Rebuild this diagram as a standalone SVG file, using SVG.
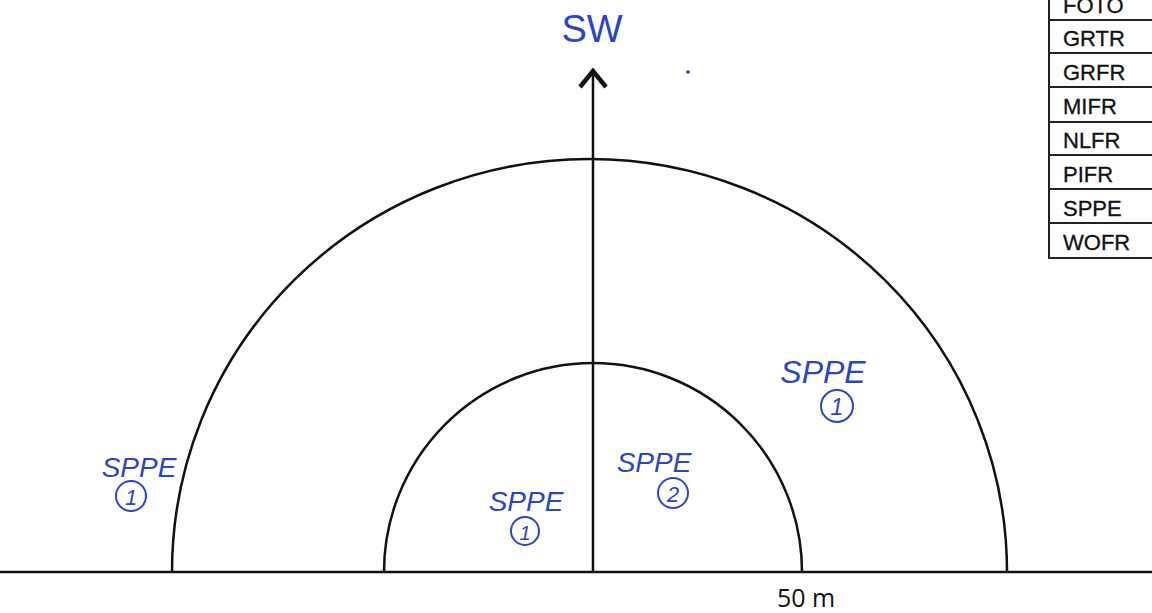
<svg xmlns="http://www.w3.org/2000/svg" width="1152" height="613" viewBox="0 0 1152 613">
<style>
.ln{fill:none;stroke:#111;stroke-width:2.5}
.hw{font-family:"Liberation Sans",Arial,sans-serif;fill:#2a45c8;font-style:italic}
.hc{fill:none;stroke:#2a45c8;stroke-width:2}
.lg{font-family:"Liberation Sans",Arial,sans-serif;font-size:22px;fill:#111;stroke:#111;stroke-width:0.3}
.cell{fill:#fff;stroke:#222;stroke-width:2}
</style>
<rect width="1152" height="613" fill="#fff"/>
<g id="connectors">
<line class="ln" x1="0" y1="572" x2="1152" y2="572"/>
<line class="ln" x1="593" y1="572" x2="593" y2="72"/>
<polyline style="fill:none;stroke:#111;stroke-width:4.5;stroke-linejoin:miter" points="580,87 593,71 606,87"/>
</g>
<g id="outer-arc"><path class="ln" d="M172,572 A417.5,413 0 0 1 1007,572"/></g>
<g id="inner-arc"><path class="ln" d="M384,572 A209,209 0 0 1 802,572"/></g>
<g id="north-label"><text class="hw" x="592" y="42" font-size="38" style="font-style:normal" text-anchor="middle">SW</text></g>
<circle cx="688" cy="72" r="1.8" fill="#443399"/>
<g id="label-left">
<text class="hw" x="139" y="477" font-size="28" text-anchor="middle">SPPE</text>
<circle class="hc" cx="131" cy="496" r="15"/>
<text class="hw" x="131" y="505" font-size="22" text-anchor="middle">1</text>
</g>
<g id="label-center-left">
<text class="hw" x="526" y="511" font-size="28" text-anchor="middle">SPPE</text>
<circle class="hc" cx="525" cy="531" r="14"/>
<text class="hw" x="525" y="540" font-size="20" text-anchor="middle">1</text>
</g>
<g id="label-center-right">
<text class="hw" x="654" y="472" font-size="28" text-anchor="middle">SPPE</text>
<circle class="hc" cx="673" cy="493" r="15"/>
<text class="hw" x="673" y="502" font-size="22" text-anchor="middle">2</text>
</g>
<g id="label-right">
<text class="hw" x="823" y="383" font-size="32" text-anchor="middle">SPPE</text>
<circle class="hc" cx="837" cy="406" r="16"/>
<text class="hw" x="837" y="415" font-size="23" text-anchor="middle">1</text>
</g>
<g id="legend">
<rect class="cell" x="1049" y="-14" width="120" height="34"/>
<rect class="cell" x="1049" y="20" width="120" height="33"/>
<rect class="cell" x="1049" y="53" width="120" height="34"/>
<rect class="cell" x="1049" y="87" width="120" height="35"/>
<rect class="cell" x="1049" y="122" width="120" height="33"/>
<rect class="cell" x="1049" y="155" width="120" height="34"/>
<rect class="cell" x="1049" y="189" width="120" height="34"/>
<rect class="cell" x="1049" y="223" width="120" height="35"/>
<text class="lg" x="1063" y="13">FOTO</text>
<text class="lg" x="1063" y="46">GRTR</text>
<text class="lg" x="1063" y="80">GRFR</text>
<text class="lg" x="1063" y="114">MIFR</text>
<text class="lg" x="1063" y="148">NLFR</text>
<text class="lg" x="1063" y="182">PIFR</text>
<text class="lg" x="1063" y="216">SPPE</text>
<text class="lg" x="1063" y="250">WOFR</text>
</g>
<g id="scale-label"><text x="806" y="607" font-family="'Open Sans','Liberation Sans',sans-serif" font-size="25" fill="#111" text-anchor="middle">50 m</text></g>
</svg>
